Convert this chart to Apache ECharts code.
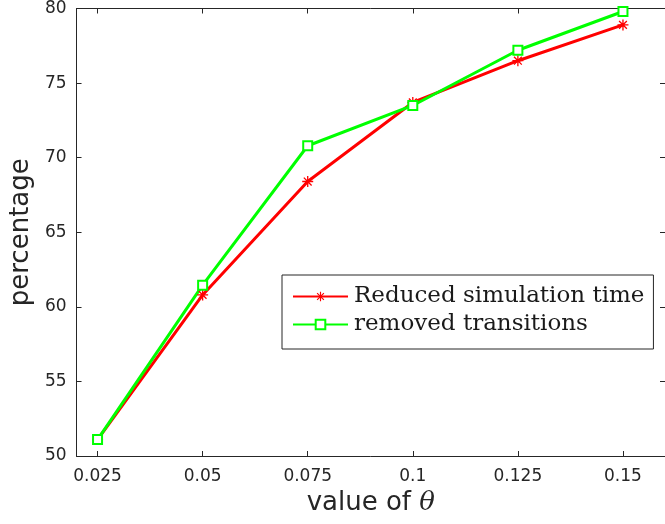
<!DOCTYPE html>
<html lang="en">
<head>
  <meta charset="UTF-8">
  <script src="https://cdn.jsdelivr.net/npm/echarts@6/dist/echarts.min.js"></script>
  <title>theta</title>
  <style>
    html, body { margin: 0; background: #fff; }
    #chart { width: 665px; height: 524px; }
  </style>
</head>
<body>
  <div id="chart"></div>
  <script>
    // values
    var thetaValues = [0.025, 0.05, 0.075, 0.1, 0.125, 0.15];
    var reducedTime = [51.1, 60.8, 68.4, 73.7, 76.5, 78.9];
    var removedTransitions = [51.1, 61.45, 70.8, 73.5, 77.2, 79.8];
    var xTickLabels = ['0.025', '0.05', '0.075', '0.1', '0.125', '0.15'];

    var axisColor = '#262626';
    var asterisk = 'path://M0,8.8L20,8.8L20,11.2L0,11.2Z M8.8,0L11.2,0L11.2,20L8.8,20Z ' +
      'M3.78,2.08L17.92,16.22L16.22,17.92L2.08,3.78Z M16.22,2.08L17.92,3.78L3.78,17.92L2.08,16.22Z';

    function pairs(xs, ys) {
      return xs.map(function (x, i) { return [x, ys[i]]; });
    }

    var chart = echarts.init(document.getElementById('chart'), null, { renderer: 'canvas' });

    var boxAxis = {
      axisLine: { show: true, lineStyle: { color: axisColor, width: 1 } },
      splitLine: { show: false }
    };

    var option = {
      animation: false,
      backgroundColor: '#fff',
      grid: { left: 74, top: 8, width: 595, height: 448 },
      xAxis: [
        Object.assign({
          type: 'value', min: 0.02, max: 0.16, position: 'bottom',
          name: 'value of {t|θ}', nameLocation: 'middle', nameGap: 34,
          nameTextStyle: {
            fontFamily: 'DejaVu Sans', fontSize: 26, color: axisColor,
            rich: { t: { fontFamily: 'DejaVu Serif', fontStyle: 'italic', fontSize: 26, color: axisColor } }
          },
          axisTick: { inside: true, length: 5, lineStyle: { color: axisColor }, customValues: thetaValues },
          axisLabel: {
            customValues: thetaValues, margin: 12,
            fontFamily: 'DejaVu Sans', fontSize: 17, color: axisColor,
            formatter: function (v) {
              var i = thetaValues.indexOf(v);
              return i >= 0 ? xTickLabels[i] : '';
            }
          }
        }, boxAxis),
        Object.assign({
          type: 'value', min: 0.02, max: 0.16, position: 'top',
          axisTick: { inside: true, length: 5, lineStyle: { color: axisColor }, customValues: thetaValues },
          axisLabel: { show: false }
        }, boxAxis)
      ],
      yAxis: [
        Object.assign({
          type: 'value', min: 50, max: 80, interval: 5, position: 'left',
          name: 'percentage', nameLocation: 'middle', nameGap: 40,
          nameTextStyle: { fontFamily: 'DejaVu Sans', fontSize: 26, color: axisColor },
          axisTick: { inside: true, length: 5, lineStyle: { color: axisColor } },
          axisLabel: { margin: 10, fontFamily: 'DejaVu Sans', fontSize: 17, color: axisColor }
        }, boxAxis),
        Object.assign({
          type: 'value', min: 50, max: 80, interval: 5, position: 'right',
          axisTick: { inside: true, length: 5, lineStyle: { color: axisColor } },
          axisLabel: { show: false }
        }, boxAxis)
      ],
      legend: {
        orient: 'vertical',
        left: 282, top: 275,
        padding: [10, 9, 13, 10],
        itemGap: 5,
        itemWidth: 55, itemHeight: 12,
        borderColor: axisColor, borderWidth: 1,
        backgroundColor: '#fff',
        textStyle: { fontFamily: 'DejaVu Serif', fontSize: 23, color: '#1a1a1a', padding: [0, 0, 0, 1] }
      },
      series: [
        {
          name: 'Reduced simulation time',
          type: 'line',
          data: pairs(thetaValues, reducedTime),
          symbol: asterisk, symbolSize: 11,
          lineStyle: { color: '#ff0000', width: 3 },
          itemStyle: { color: '#ff0000' }
        },
        {
          name: 'removed transitions',
          type: 'line',
          data: pairs(thetaValues, removedTransitions),
          symbol: 'emptyRect', symbolSize: 9,
          lineStyle: { color: '#00ff00', width: 3 },
          itemStyle: { color: '#00ff00', borderWidth: 2 }
        }
      ]
    };

    chart.setOption(option);
  </script>
</body>
</html>
